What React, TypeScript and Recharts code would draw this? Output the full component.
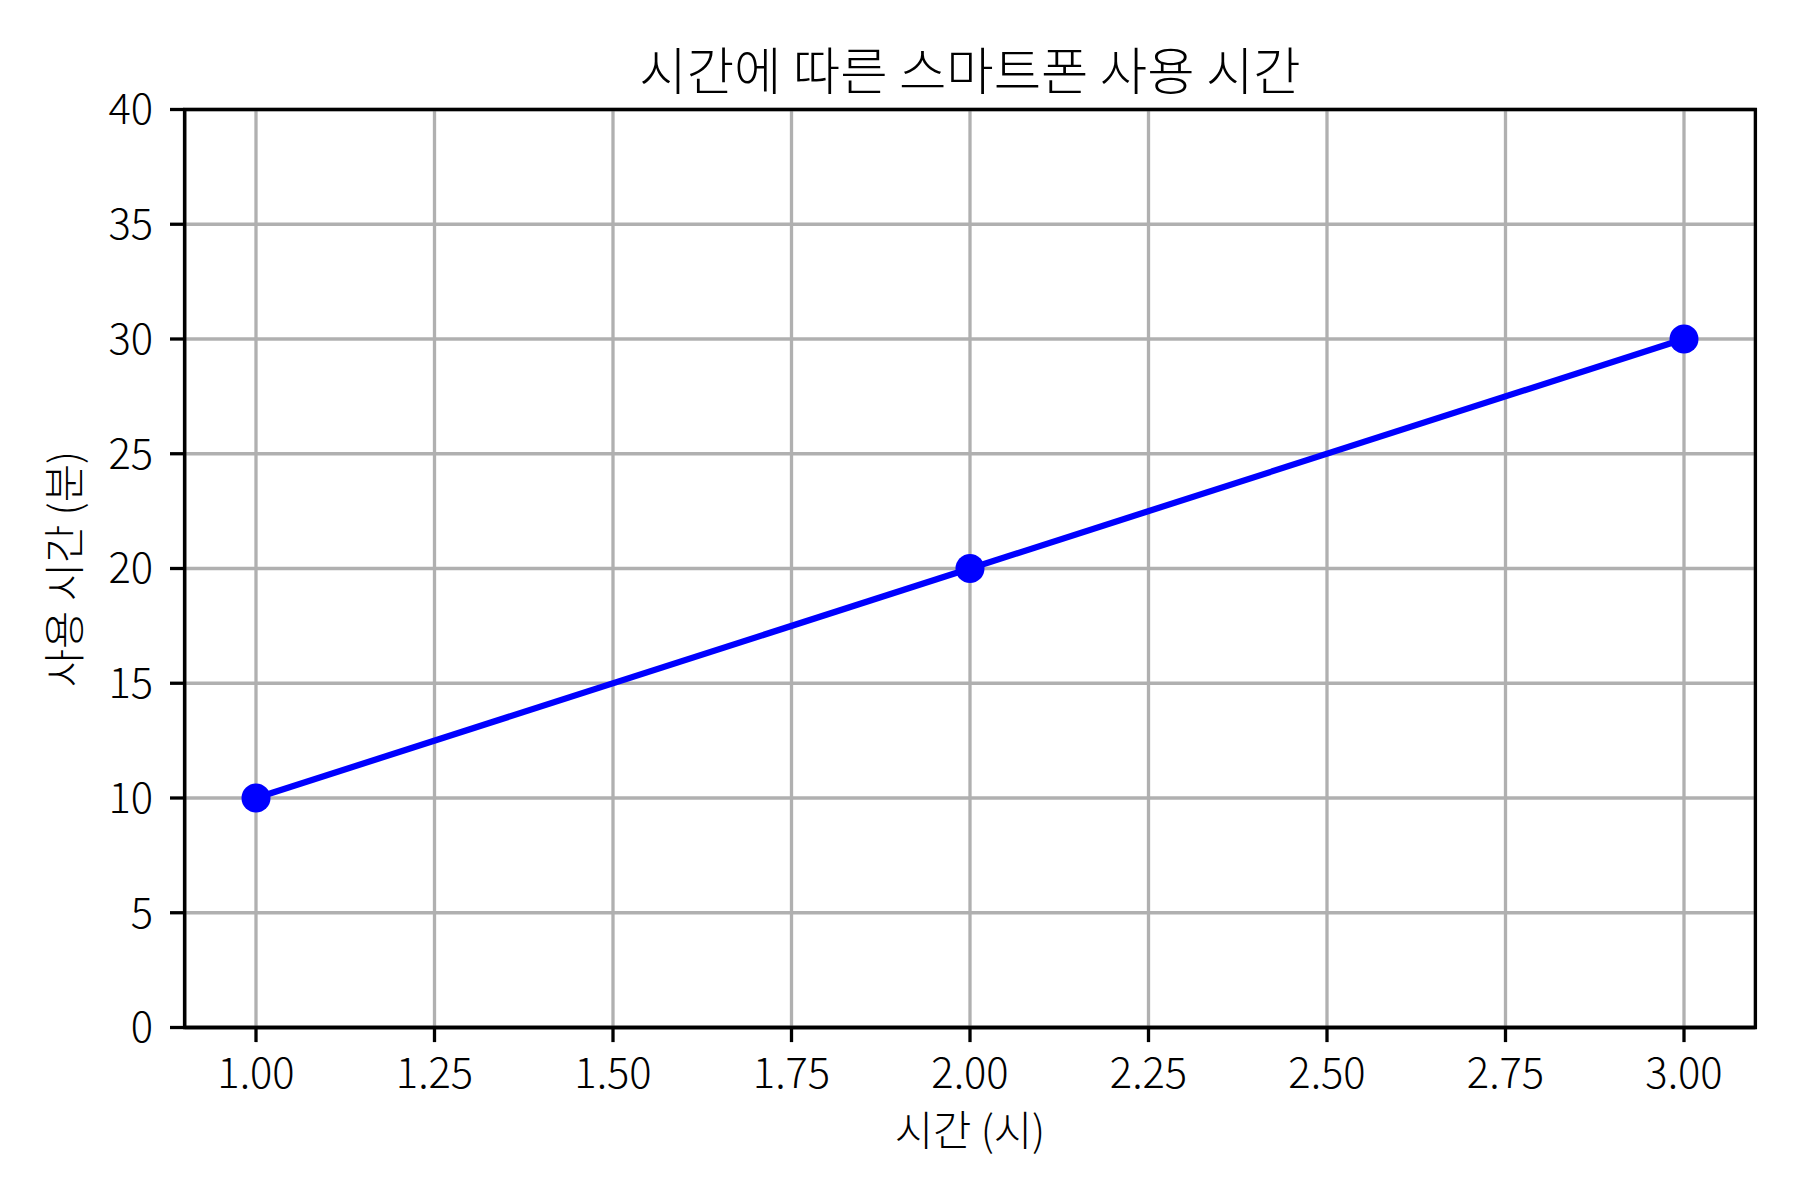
import React from "react";
import {
  LineChart,
  Line,
  XAxis,
  YAxis,
  CartesianGrid,
  ReferenceArea,
} from "recharts";

const hours = [1, 2, 3];
const usageMinutes = [10, 20, 30];
const xTicks = [1, 1.25, 1.5, 1.75, 2, 2.25, 2.5, 2.75, 3];
const yTicks = [0, 5, 10, 15, 20, 25, 30, 35, 40];

const title = "시간에 따른 스마트폰 사용 시간";
const xLabel = "시간 (시)";
const yLabel = "사용 시간 (분)";

const data = hours.map((h, i) => ({ hour: h, minutes: usageMinutes[i] }));

const FONT = '"Noto Sans CJK KR", "Noto Sans", sans-serif';
const tickStyle = { fontSize: 41.7, fill: "#000", fontFamily: FONT, fontWeight: 300 };

export default function App() {
  return (
    <div
      style={{
        position: "absolute",
        left: 0,
        top: 0,
        width: 1800,
        height: 1200,
        background: "#fff",
        fontFamily: FONT,
        fontWeight: 300,
        color: "#000",
      }}
    >
      <LineChart
        width={1800}
        height={1200}
        data={data}
        margin={{ top: 109.5, right: 44.6, bottom: 72.5, left: 64.6 }}
      >
        <CartesianGrid stroke="#b0b0b0" strokeWidth={3.3} />
        <XAxis
          dataKey="hour"
          type="number"
          domain={[0.9, 3.1]}
          allowDataOverflow
          ticks={xTicks}
          interval={0}
          tickFormatter={(v: number) => v.toFixed(2)}
          height={100}
          tickSize={14.6}
          tickMargin={16}
          tick={tickStyle}
          axisLine={{ stroke: "#000", strokeWidth: 3.3 }}
          tickLine={{ stroke: "#000", strokeWidth: 3.3 }}
        />
        <YAxis
          type="number"
          domain={[0, 40]}
          allowDataOverflow
          ticks={yTicks}
          interval={0}
          width={120}
          tickSize={14.6}
          tickMargin={17}
          tick={tickStyle}
          axisLine={{ stroke: "#000", strokeWidth: 3.3 }}
          tickLine={{ stroke: "#000", strokeWidth: 3.3 }}
        />
        {/* top and right spines */}
        <ReferenceArea
          x1={0.9}
          x2={3.1}
          y1={0}
          y2={40}
          fill="none"
          stroke="#000"
          strokeWidth={3.3}
          fillOpacity={0}
          ifOverflow="extendDomain"
        />
        <Line
          dataKey="minutes"
          stroke="#0000ff"
          strokeWidth={6.25}
          dot={{ r: 14.5, fill: "#0000ff", stroke: "none" }}
          activeDot={false}
          isAnimationActive={false}
        />
      </LineChart>

      <div
        style={{
          position: "absolute",
          left: 0,
          width: 1940,
          top: 18,
          height: 100,
          lineHeight: "100px",
          fontSize: 51.5,
          textAlign: "center",
          whiteSpace: "nowrap",
        }}
      >
        {title}
      </div>
      <div
        style={{
          position: "absolute",
          left: 0,
          width: 1940,
          top: 1078,
          height: 100,
          lineHeight: "100px",
          fontSize: 41.7,
          textAlign: "center",
          whiteSpace: "nowrap",
        }}
      >
        {xLabel}
      </div>
      <div
        style={{
          position: "absolute",
          left: 62 - 300,
          top: 568.5 - 50,
          width: 600,
          height: 100,
          lineHeight: "100px",
          fontSize: 41.7,
          textAlign: "center",
          whiteSpace: "nowrap",
          transform: "rotate(-90deg)",
        }}
      >
        {yLabel}
      </div>
    </div>
  );
}
